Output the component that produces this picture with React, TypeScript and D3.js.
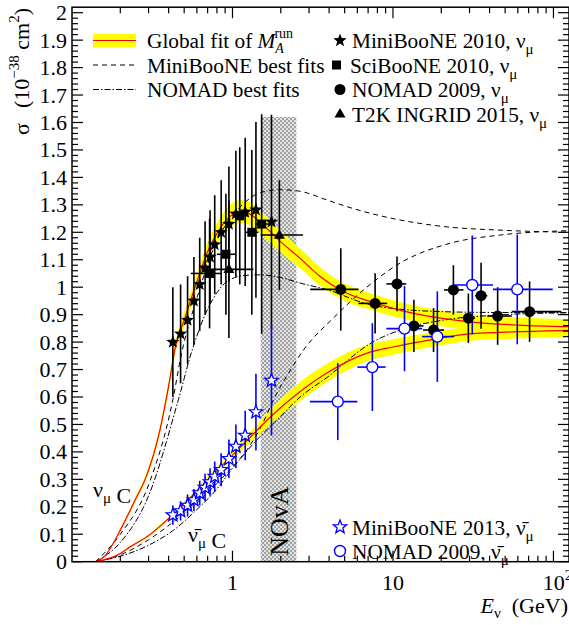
import React from 'react';
import * as d3 from 'd3';

const W = 569, H = 625;

// ---------- curves (E in GeV, sigma in 1e-38 cm^2) ----------
const nuFitE = [0.14,0.16,0.186,0.2,0.25,0.29,0.35,0.4,0.44,0.5,0.6,0.7,0.8,0.9,1.0,1.1,1.25,1.5,2.0,2.64,3.5,4.7,7.7,15,30,60,125];
const nuFitS = [0,0.02,0.08,0.115,0.23,0.31,0.47,0.64,0.78,0.88,1.02,1.13,1.195,1.24,1.265,1.275,1.27,1.235,1.165,1.105,1.04,0.99,0.943,0.899,0.874,0.862,0.856];
const nuFitW = [0,0.002,0.004,0.005,0.008,0.01,0.014,0.018,0.022,0.026,0.031,0.035,0.038,0.04,0.042,0.042,0.042,0.041,0.039,0.036,0.034,0.032,0.03,0.029,0.028,0.028,0.027];

const nubFitE = [0.14,0.17,0.2,0.23,0.3,0.41,0.5,0.7,0.97,1.3,1.72,2.64,4.06,6.9,10,17.8,30,60,125];
const nubFitS = [0,0.012,0.03,0.054,0.095,0.163,0.21,0.298,0.38,0.455,0.527,0.62,0.695,0.76,0.782,0.81,0.83,0.838,0.843];
const nubFitW = [0,0.001,0.002,0.003,0.004,0.006,0.008,0.011,0.015,0.02,0.027,0.035,0.033,0.03,0.028,0.027,0.026,0.025,0.025];

const mbFitNuE = [0.14,0.2,0.3,0.425,0.478,0.6,0.8,1.0,1.2,1.5,2.0,2.6,4,5.4,10,20,50,125];
const mbFitNuS = [0,0.1,0.28,0.59,0.75,0.96,1.17,1.26,1.31,1.345,1.355,1.35,1.315,1.29,1.25,1.222,1.207,1.2];
const mbFitNubE = [0.14,0.2,0.3,0.45,0.6,0.8,1.0,1.23,1.5,1.89,2.2,2.76,4.24,6.87,11.1,22.7,46.6,125];
const mbFitNubS = [0,0.025,0.08,0.155,0.215,0.285,0.345,0.407,0.49,0.614,0.68,0.77,0.887,1.0,1.088,1.16,1.19,1.206];

const nmFitNuE = [0.14,0.2,0.3,0.46,0.56,0.7,0.8,0.92,1.2,1.5,2.0,2.64,4.2,6,7.8,12,18,40,125];
const nmFitNuS = [0,0.07,0.24,0.59,0.77,0.92,0.98,1.02,1.043,1.045,1.035,1.015,0.985,0.95,0.932,0.918,0.912,0.908,0.907];
const nmFitNubE = [0.14,0.2,0.3,0.43,0.6,0.8,0.97,1.4,1.98,2.64,4.06,4.9,7,11.1,20.6,46.6,125];
const nmFitNubS = [0,0.02,0.06,0.115,0.19,0.265,0.33,0.44,0.528,0.6,0.68,0.72,0.79,0.844,0.88,0.899,0.907];

// ---------- data points ----------
const mbNuE = [0.425,0.475,0.525,0.575,0.625,0.675,0.725,0.775,0.85,0.95,1.05,1.2,1.4,1.75];
const mbNuS = [0.80,0.83,0.88,0.95,1.01,1.07,1.11,1.155,1.20,1.23,1.267,1.274,1.282,1.238];
const mbNuErr = [0.20,0.18,0.16,0.16,0.17,0.17,0.17,0.18,0.19,0.21,0.23,0.27,0.32,0.39];

const sbE = [0.72,0.91,1.11,1.32,1.52];
const sbS = [1.05,1.12,1.26,1.2,1.23];
const sbLo = [0.55,0.8,1.0,1.2,1.4];
const sbHi = [0.85,1.05,1.25,1.45,1.75];
const sbErr = [0.2,0.22,0.25,0.3,0.4];

const t2kE = [0.95,1.96];
const t2kS = [1.065,1.19];
const t2kLo = [0.7,1.5];
const t2kHi = [1.35,2.75];
const t2kErr = [0.25,0.2];

const nmNuE = [4.73,7.74,10.6,13.5,17.9,23.8,29.5,35.4,44.9,71];
const nmNuS = [0.992,0.941,1.012,0.859,0.844,0.99,0.887,0.969,0.895,0.911];
const nmNuLo = [3.05,6.1,9.1,12.1,15.4,20.8,27.5,32.5,38.7,55];
const nmNuHi = [6.1,9.2,12.1,15.5,20.8,27.5,32.5,38.7,55,112];
const nmNuErr = [0.15,0.11,0.1,0.095,0.08,0.09,0.09,0.12,0.105,0.11];

const nmNubE = [4.53,7.44,11.8,18.9,31.2,59.5];
const nmNubS = [0.583,0.709,0.849,0.82,1.008,0.992];
const nmNubLo = [3.04,6.0,9.1,15.2,24,42];
const nmNubHi = [6.0,9.0,15.2,24,42,99];
const nmNubErr = [0.14,0.16,0.155,0.165,0.18,0.2];

const mbNubE = [0.425,0.475,0.525,0.575,0.625,0.675,0.725,0.775,0.85,0.95,1.05,1.2,1.4,1.75];
const mbNubS = [0.17,0.185,0.205,0.225,0.25,0.27,0.29,0.31,0.335,0.375,0.42,0.46,0.545,0.66];
const mbNubErr = [0.035,0.035,0.04,0.04,0.045,0.05,0.05,0.055,0.06,0.07,0.08,0.09,0.14,0.2];

const novaRange = [1.5, 2.5];
const novaTop = 1.62;

const xMajor = [1, 10, 100];
const yMajorStep = 0.1;

const x = d3.scaleLog().domain([0.1, 125]).range([72, 569]);
const y = d3.scaleLinear().domain([0, 2.02]).range([561.7, 7.2]);

const FONT = '"Liberation Serif", "Times New Roman", serif';
const BLUE = '#0000ff';
const FS = 22;
const LFS = 21.3;
const SUB = 15;

function zip(a: number[], b: number[]): [number, number][] {
  return a.map((v, i) => [v, b[i]]);
}

const line = d3.line<[number, number]>().x(d => x(d[0])).y(d => y(d[1])).curve(d3.curveMonotoneX);

function bandPath(E: number[], S: number[], Wd: number[]) {
  const pts = E.map((e, i) => ({ e, s: S[i], w: Wd[i] }));
  return d3.area<{ e: number; s: number; w: number }>()
    .x(d => x(d.e)).y0(d => y(Math.max(0, d.s - d.w))).y1(d => y(d.s + d.w))
    .curve(d3.curveMonotoneX)(pts) || '';
}

function starPath(cx: number, cy: number, R: number) {
  const r = R * 0.42;
  let p = '';
  for (let i = 0; i < 10; i++) {
    const a = -Math.PI / 2 + (i * Math.PI) / 5;
    const rr = i % 2 === 0 ? R : r;
    p += (i === 0 ? 'M' : 'L') + (cx + rr * Math.cos(a)).toFixed(2) + ',' + (cy + rr * Math.sin(a)).toFixed(2);
  }
  return p + 'Z';
}

function triPath(cx: number, cy: number, s: number) {
  const h = s * 0.866;
  return `M${cx},${cy - h * 0.62}L${cx + s / 2},${cy + h * 0.38}L${cx - s / 2},${cy + h * 0.38}Z`;
}

const Nu = ({ bar = false }: { bar?: boolean }) => (
  <>
    <tspan>{bar ? 'ν\u0304' : 'ν'}</tspan>
    <tspan dy={6} fontSize={SUB}>μ</tspan>
    <tspan dy={-6}></tspan>
  </>
);

export default function App() {
  const bottom = y(0), top = y(2.02), left = x(0.1), right = x(125);

  const xMinor: number[] = [];
  for (const dec of [0.1, 1, 10]) for (let k = 2; k <= 9; k++) xMinor.push(dec * k);
  const yTicks: { v: number; major: boolean }[] = [];
  for (let i = 0; i <= 100; i++) {
    const v = i * 0.02;
    yTicks.push({ v, major: i % 5 === 0 });
  }
  const yLabels = d3.range(0, 21).map(i => i * yMajorStep);
  const fmt = (v: number) => {
    const r = Math.round(v * 10) / 10;
    return r === Math.round(r) ? String(Math.round(r)) : r.toFixed(1);
  };

  const errBars = (E: number[], S: number[], err: number[], lo: number[] | null, hi: number[] | null, color: string, key: string) => (
    <g key={key} stroke={color} strokeWidth={1.6}>
      {E.map((e, i) => (
        <g key={i}>
          <line x1={x(e)} x2={x(e)} y1={y(S[i] - err[i])} y2={y(S[i] + err[i])} />
          {lo && hi && <line x1={x(lo[i])} x2={x(hi[i])} y1={y(S[i])} y2={y(S[i])} />}
        </g>
      ))}
    </g>
  );

  const legX = 340, legTX = 352;
  const rowY = [40.5, 65, 89.5, 114];
  const novaMid = (x(novaRange[0]) + x(novaRange[1])) / 2;

  return (
    <svg width={W} height={H} style={{ position: 'absolute', left: 0, top: 0, background: '#fff' }} fontFamily={FONT}>
      <defs>
        <pattern id="hatch" width={4} height={4} patternUnits="userSpaceOnUse">
          <rect width={4} height={4} fill="#e4e4e4" />
          <rect x={0} y={0} width={2} height={2} fill="#a0a0a0" />
          <rect x={2} y={2} width={2} height={2} fill="#a0a0a0" />
        </pattern>
        <clipPath id="plot"><rect x={left} y={top} width={right - left} height={bottom - top} /></clipPath>
      </defs>
      <rect x={0} y={0} width={W} height={H} fill="#fff" />

      {/* NOvA band */}
      <rect x={x(novaRange[0])} y={y(novaTop)} width={x(novaRange[1]) - x(novaRange[0])} height={bottom - y(novaTop)} fill="url(#hatch)" />
      <text transform={`translate(${novaMid + 9},${bottom - 6}) rotate(-90)`} fontSize={26} fill="#000">NOvA</text>

      <g clipPath="url(#plot)">
        {/* global fit bands */}
        <path d={bandPath(nuFitE, nuFitS, nuFitW)} fill="#ffff00" />
        <path d={bandPath(nubFitE, nubFitS, nubFitW)} fill="#ffff00" />
        {/* best fit curves */}
        <path d={line(zip(mbFitNuE, mbFitNuS)) || ''} fill="none" stroke="#000" strokeWidth={1} strokeDasharray="5,4" />
        <path d={line(zip(mbFitNubE, mbFitNubS)) || ''} fill="none" stroke="#000" strokeWidth={1} strokeDasharray="5,4" />
        <path d={line(zip(nmFitNuE, nmFitNuS)) || ''} fill="none" stroke="#000" strokeWidth={1} strokeDasharray="6,2,1.5,2" />
        <path d={line(zip(nmFitNubE, nmFitNubS)) || ''} fill="none" stroke="#000" strokeWidth={1} strokeDasharray="6,2,1.5,2" />
        <path d={line(zip(nuFitE, nuFitS)) || ''} fill="none" stroke="#ff0000" strokeWidth={1.2} />
        <path d={line(zip(nubFitE, nubFitS)) || ''} fill="none" stroke="#ff0000" strokeWidth={1.2} />

        {/* error bars */}
        {errBars(mbNuE, mbNuS, mbNuErr, null, null, '#000', 'mbnu')}
        {errBars(sbE, sbS, sbErr, sbLo, sbHi, '#000', 'sb')}
        {errBars(t2kE, t2kS, t2kErr, t2kLo, t2kHi, '#000', 't2k')}
        {errBars(nmNuE, nmNuS, nmNuErr, nmNuLo, nmNuHi, '#000', 'nmnu')}
        {errBars(nmNubE, nmNubS, nmNubErr, nmNubLo, nmNubHi, BLUE, 'nmnub')}
        {errBars(mbNubE, mbNubS, mbNubErr, null, null, BLUE, 'mbnub')}

        {/* markers */}
        {mbNuE.map((e, i) => <path key={'s' + i} d={starPath(x(e), y(mbNuS[i]), 7)} fill="#000" />)}
        {sbE.map((e, i) => <rect key={'q' + i} x={x(e) - 4.5} y={y(sbS[i]) - 4.5} width={9} height={9} fill="#000" />)}
        {t2kE.map((e, i) => <path key={'t' + i} d={triPath(x(e), y(t2kS[i]), 11)} fill="#000" />)}
        {nmNuE.map((e, i) => <circle key={'c' + i} cx={x(e)} cy={y(nmNuS[i])} r={5.5} fill="#000" />)}
        {nmNubE.map((e, i) => <circle key={'o' + i} cx={x(e)} cy={y(nmNubS[i])} r={5.5} fill="#fff" stroke={BLUE} strokeWidth={1.4} />)}
        {mbNubE.map((e, i) => <path key={'b' + i} d={starPath(x(e), y(mbNubS[i]), 7)} fill="#fff" stroke={BLUE} strokeWidth={1.3} />)}
      </g>

      {/* axes frame */}
      <rect x={left} y={top} width={right - left} height={bottom - top} fill="none" stroke="#000" strokeWidth={1.5} />
      <g stroke="#000" strokeWidth={1.2}>
        {xMajor.map(v => (
          <g key={'xm' + v}>
            <line x1={x(v)} x2={x(v)} y1={bottom} y2={bottom - 11} />
            <line x1={x(v)} x2={x(v)} y1={top} y2={top + 11} />
          </g>
        ))}
        {xMinor.map(v => (
          <g key={'xn' + v}>
            <line x1={x(v)} x2={x(v)} y1={bottom} y2={bottom - 6} />
            <line x1={x(v)} x2={x(v)} y1={top} y2={top + 6} />
          </g>
        ))}
        {yTicks.map(t => (
          <g key={'y' + t.v}>
            <line x1={left} x2={left + (t.major ? 11 : 6)} y1={y(t.v)} y2={y(t.v)} />
            <line x1={right} x2={right - (t.major ? 11 : 6)} y1={y(t.v)} y2={y(t.v)} />
          </g>
        ))}
      </g>
      {/* y labels */}
      <g fontSize={FS} textAnchor="end" fill="#000">
        {yLabels.map(v => (
          <text key={'yl' + v} x={left - 5} y={y(v) + 7.5}>{fmt(v)}</text>
        ))}
      </g>
      {/* x labels */}
      <g fontSize={FS} textAnchor="middle" fill="#000">
        <text x={x(1)} y={590}>1</text>
        <text x={x(10)} y={590}>10</text>
        <text x={x(100) + 4} y={590}>10<tspan dy={-10} fontSize={SUB}>2</tspan></text>
      </g>
      {/* axis titles */}
      <text x={568} y={613} fontSize={FS} textAnchor="end" fill="#000">
        <tspan fontStyle="italic">E</tspan><tspan dy={5} fontSize={SUB}>ν</tspan><tspan dy={-5}>{'\u00a0\u00a0(GeV)'}</tspan>
      </text>
      <text transform="translate(29,135) rotate(-90)" fontSize={FS} textAnchor="start" fill="#000">σ</text>
      <text transform="translate(29,8) rotate(-90)" fontSize={FS} textAnchor="end" fill="#000">
        {'(10'}<tspan dy={-10} fontSize={SUB}>−38</tspan><tspan dy={10}>{'\u00a0cm'}</tspan><tspan dy={-10} fontSize={SUB}>2</tspan><tspan dy={10}>)</tspan>
      </text>

      {/* curve labels */}
      <text x={93} y={497} fontSize={FS} fill="#000"><Nu /><tspan>{'\u00a0C'}</tspan></text>
      <text x={188} y={542} fontSize={FS} fill="#000"><Nu bar /><tspan>{'\u00a0C'}</tspan></text>

      {/* left legend */}
      <rect x={93} y={rowY[0] - 6.5} width={43} height={13} fill="#ffff00" />
      <line x1={93} x2={136} y1={rowY[0]} y2={rowY[0]} stroke="#ff0000" strokeWidth={1.2} />
      <line x1={93} x2={136} y1={rowY[1]} y2={rowY[1]} stroke="#000" strokeWidth={1} strokeDasharray="5,4" />
      <line x1={93} x2={136} y1={rowY[2]} y2={rowY[2]} stroke="#000" strokeWidth={1} strokeDasharray="6,2,1.5,2" />
      <text x={147} y={rowY[0] + 7.5} fontSize={LFS} fill="#000">
        {'Global fit of '}<tspan fontStyle="italic">M</tspan><tspan dy={5} fontSize={14} fontStyle="italic">A</tspan><tspan dx={-9.5} dy={-15} fontSize={14}>run</tspan>
      </text>
      <text x={147} y={rowY[1] + 7.5} fontSize={LFS} fill="#000">MiniBooNE best fits</text>
      <text x={147} y={rowY[2] + 7.5} fontSize={LFS} fill="#000">NOMAD best fits</text>

      {/* right legend */}
      <path d={starPath(legX, rowY[0], 7)} fill="#000" />
      <rect x={legX - 8} y={rowY[1] - 4.5} width={9} height={9} fill="#000" />
      <circle cx={legX} cy={rowY[2]} r={5.5} fill="#000" />
      <path d={triPath(legX, rowY[3], 11)} fill="#000" />
      <text x={legTX} y={rowY[0] + 7.5} fontSize={LFS} fill="#000">{'MiniBooNE 2010, '}<Nu /></text>
      <text x={legTX - 2} y={rowY[1] + 7.5} fontSize={LFS} fill="#000">{'SciBooNE 2010, '}<Nu /></text>
      <text x={legTX} y={rowY[2] + 7.5} fontSize={LFS} fill="#000">{'NOMAD 2009, '}<Nu /></text>
      <text x={legTX} y={rowY[3] + 7.5} fontSize={LFS} fill="#000">{'T2K INGRID 2015, '}<Nu /></text>

      {/* bottom-right legend */}
      <path d={starPath(legX, 527, 7)} fill="#fff" stroke={BLUE} strokeWidth={1.3} />
      <circle cx={legX} cy={551} r={5.5} fill="#fff" stroke={BLUE} strokeWidth={1.4} />
      <text x={legTX} y={534.5} fontSize={LFS} fill="#000">{'MiniBooNE 2013, '}<Nu bar /></text>
      <text x={legTX} y={558.5} fontSize={LFS} fill="#000">{'NOMAD 2009, '}<Nu bar /></text>
    </svg>
  );
}
